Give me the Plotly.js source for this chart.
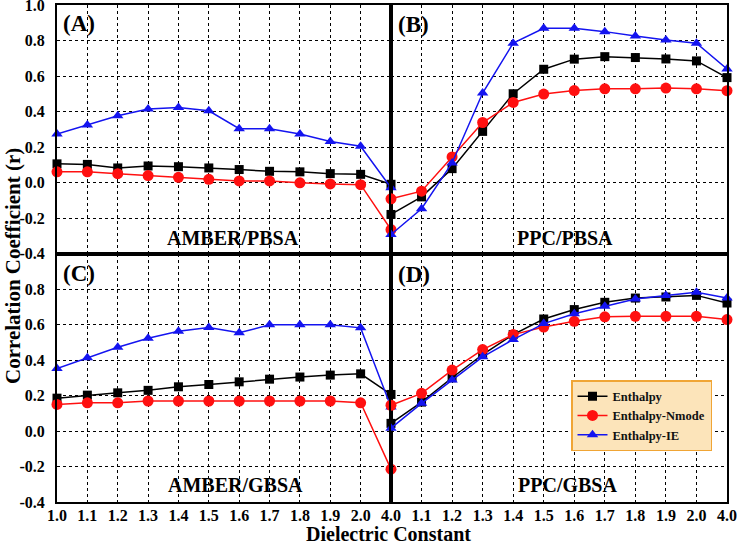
<!DOCTYPE html>
<html>
<head>
<meta charset="utf-8">
<script src="https://cdn.plot.ly/plotly-3.0.1.min.js"></script>
<style>html,body{margin:0;padding:0;background:#fff;}#chart{width:737px;height:545px;}</style>
</head>
<body>
<div id="chart"></div>
<script>
// Dielectric constant categories (shared by left and right columns)
const xLabels = ["1.0","1.1","1.2","1.3","1.4","1.5","1.6","1.7","1.8","1.9","2.0","4.0"];
const seriesNames = ["Enthalpy","Enthalpy-Nmode","Enthalpy-IE"];

// (A) AMBER/PBSA
const aEnthalpy = [0.105,0.102,0.082,0.093,0.089,0.082,0.073,0.063,0.060,0.050,0.046,-0.010];
const aNmode    = [0.060,0.060,0.050,0.039,0.029,0.018,0.009,0.009,-0.002,-0.008,-0.012,-0.265];
const aIE       = [0.273,0.324,0.376,0.414,0.423,0.404,0.303,0.303,0.273,0.231,0.204,-0.030];
// (B) PPC/PBSA
const bEnthalpy = [-0.180,-0.081,0.078,0.288,0.500,0.638,0.695,0.709,0.704,0.696,0.685,0.591];
const bNmode    = [-0.092,-0.049,0.144,0.338,0.451,0.498,0.518,0.528,0.528,0.532,0.528,0.517];
const bIE       = [-0.293,-0.148,0.110,0.504,0.785,0.869,0.869,0.850,0.826,0.803,0.785,0.640];
// (C) AMBER/GBSA
const cEnthalpy = [0.185,0.202,0.215,0.229,0.249,0.262,0.277,0.292,0.304,0.315,0.322,0.206];
const cNmode    = [0.150,0.159,0.159,0.169,0.169,0.169,0.169,0.169,0.169,0.169,0.159,-0.215];
const cIE       = [0.352,0.412,0.472,0.523,0.562,0.583,0.553,0.598,0.598,0.598,0.581,0.135];
// (D) PPC/GBSA
const dEnthalpy = [0.043,0.163,0.300,0.431,0.543,0.631,0.684,0.725,0.749,0.755,0.764,0.721];
const dNmode    = [0.145,0.212,0.343,0.459,0.543,0.586,0.618,0.643,0.646,0.646,0.646,0.628];
const dIE       = [0.016,0.156,0.287,0.418,0.515,0.605,0.661,0.703,0.744,0.763,0.781,0.749];

const yTopTicks = [-0.4,-0.2,0.0,0.2,0.4,0.6,0.8,1.0];
const yBottomTicks = [-0.4,-0.2,0.0,0.2,0.4,0.6,0.8];

const panels = [
  {label:"(A)", method:"AMBER/PBSA", xa:"x",  ya:"y",  data:[aEnthalpy,aNmode,aIE]},
  {label:"(B)", method:"PPC/PBSA",   xa:"x2", ya:"y",  data:[bEnthalpy,bNmode,bIE]},
  {label:"(C)", method:"AMBER/GBSA", xa:"x",  ya:"y2", data:[cEnthalpy,cNmode,cIE]},
  {label:"(D)", method:"PPC/GBSA",   xa:"x2", ya:"y2", data:[dEnthalpy,dNmode,dIE]}
];

const styles = [
  {color:"#000000", symbol:"square", size:9},
  {color:"#ff1010", symbol:"circle", size:11},
  {color:"#1414f0", symbol:"triangle-up", size:10}
];

const traces = [];
panels.forEach((p, pi) => {
  p.data.forEach((vals, si) => {
    const st = styles[si];
    traces.push({
      type:"scatter", mode:"lines+markers",
      x:xLabels, y:vals, xaxis:p.xa, yaxis:p.ya,
      name:seriesNames[si], legendgroup:seriesNames[si],
      showlegend: pi === 0,
      cliponaxis:false,
      line:{color:st.color, width:1.5},
      marker:{color:st.color, symbol:st.symbol, size:st.size, line:{width:0}}
    });
  });
});

const L = 57, R = 10, T = 5, B = 43, W = 737, H = 545;
const pw = W - L - R, ph = H - T - B;
const px = v => (v - L) / pw;
const py = v => (H - B - v) / ph;

const serif = "Liberation Serif, Times New Roman, serif";
const tickFont = {family:serif, size:16, color:"#000", weight:"bold"};

const gridCommon = {
  showgrid:true, gridcolor:"#000", gridwidth:1, griddash:"dot",
  zeroline:false, showline:true, linecolor:"#000", linewidth:2, mirror:"all",
  ticks:"", tickfont:tickFont, fixedrange:true, ticklabeloverflow:"allow"
};

const annotations = [];
const labelPos = [[61,23],[396,24],[61,273],[396,274]];
const methodPos = [[233,238],[565,238],[235,485],[567,485]];
panels.forEach((p, i) => {
  annotations.push({xref:"paper", yref:"paper", x:px(labelPos[i][0]), y:py(labelPos[i][1]),
    xanchor:"left", yanchor:"middle", showarrow:false, text:"<b>"+p.label+"</b>",
    font:{family:serif, size:23, color:"#000"}});
  annotations.push({xref:"paper", yref:"paper", x:px(methodPos[i][0]), y:py(methodPos[i][1]),
    xanchor:"center", yanchor:"middle", showarrow:false, text:"<b>"+p.method+"</b>",
    font:{family:serif, size:20, color:"#000"}});
});
annotations.push({xref:"paper", yref:"paper", x:px(388), y:py(534), xanchor:"center", yanchor:"middle",
  showarrow:false, text:"<b>Dielectric Constant</b>", font:{family:serif, size:20, color:"#000"}});
annotations.push({xref:"paper", yref:"paper", x:px(13), y:py(266), xanchor:"center", yanchor:"middle",
  showarrow:false, textangle:-90, text:"<b>Correlation Coefficient (r)</b>", font:{family:serif, size:21, color:"#000"}});

const layout = {
  width:W, height:H,
  margin:{l:L, r:R, t:T, b:B, pad:0},
  paper_bgcolor:"#fff", plot_bgcolor:"#fff",
  showlegend:true,
  legend:{x:px(571), y:py(380), xanchor:"left", yanchor:"top",
    bgcolor:"#fce4ba", bordercolor:"#f0a535", borderwidth:1.5,
    font:{family:serif, size:12.5, color:"#111", weight:"bold"},
    tracegroupgap:0, itemwidth:30},
  xaxis:Object.assign({}, gridCommon, {domain:[0,0.4985], anchor:"y2", type:"category",
    categoryorder:"array", categoryarray:xLabels, range:[0,11],
    tickmode:"array", tickvals:xLabels, ticktext:xLabels, ticklabelstandoff:-2}),
  xaxis2:Object.assign({}, gridCommon, {domain:[0.4985,1], anchor:"y2", type:"category",
    categoryorder:"array", categoryarray:xLabels, range:[0,11],
    tickmode:"array", tickvals:xLabels.slice(1), ticktext:xLabels.slice(1), ticklabelstandoff:-2}),
  yaxis:Object.assign({}, gridCommon, {domain:[0.5,1], anchor:"x", range:[-0.4,1.0],
    tickmode:"array", tickvals:yTopTicks, ticktext:yTopTicks.map(v=>v.toFixed(1)), ticklabelstandoff:7}),
  yaxis2:Object.assign({}, gridCommon, {domain:[0,0.5], anchor:"x", range:[-0.4,1.0],
    tickmode:"array", tickvals:yBottomTicks, ticktext:yBottomTicks.map(v=>v.toFixed(1)), ticklabelstandoff:7}),
  annotations:annotations
};

Plotly.newPlot("chart", traces, layout, {displayModeBar:false, staticPlot:true});
</script>
</body>
</html>
